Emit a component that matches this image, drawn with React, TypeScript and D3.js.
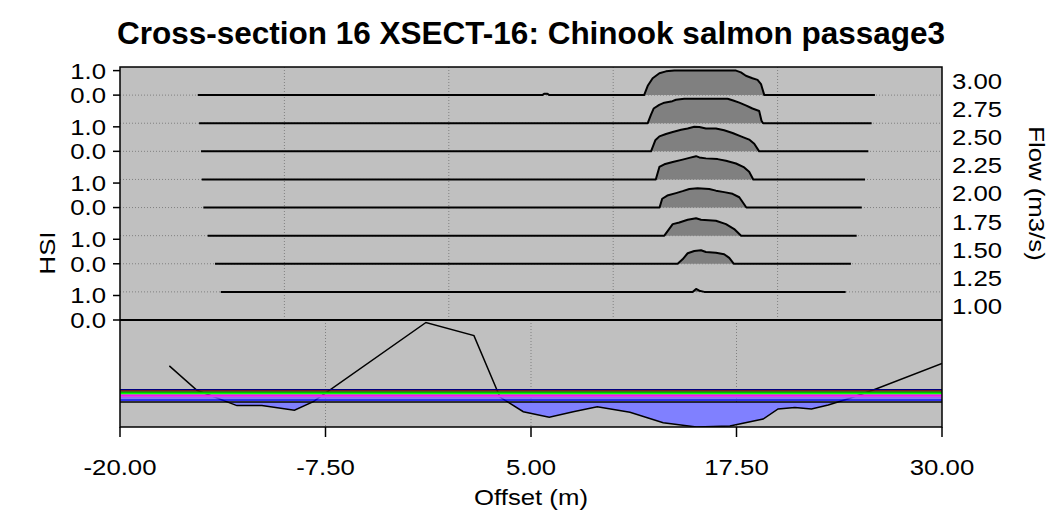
import React from 'react';
import * as d3 from 'd3';

// ---- Data ----
const flowLabels = ['3.00', '2.75', '2.50', '2.25', '2.00', '1.75', '1.50', '1.25', '1.00'];
const wetLeft = [-15.27, -15.19, -15.07, -15.03, -14.93, -14.67, -14.22, -13.87, -13.5];
const wetRight = [25.92, 25.72, 25.52, 25.32, 25.12, 24.81, 24.46, 24.14, 23.8];

const hsi300: [number, number][] = [[5.70, 0], [5.80, 0.06], [6.00, 0.06], [6.10, 0], [11.88, 0], [12.10, 0.38], [12.40, 0.69], [12.81, 0.89], [13.21, 0.97], [13.72, 1.0], [17.47, 1.0], [17.77, 0.93], [18.07, 0.79], [18.47, 0.69], [18.78, 0.62], [18.99, 0.45], [19.19, 0]];
const hsi275: [number, number][] = [[12.10, 0], [12.30, 0.35], [12.46, 0.6], [12.80, 0.75], [13.11, 0.84], [13.60, 0.9], [13.82, 0.96], [14.32, 1.0], [16.96, 1.0], [17.30, 0.93], [17.67, 0.84], [18.10, 0.72], [18.47, 0.6], [18.88, 0.5], [19.02, 0.1], [19.12, 0]];
const hsi250: [number, number][] = [[12.30, 0], [12.56, 0.45], [12.81, 0.61], [13.21, 0.71], [13.62, 0.79], [14.13, 0.88], [14.53, 0.93], [14.93, 1.0], [15.24, 0.99], [15.64, 0.93], [16.25, 0.93], [16.75, 0.86], [17.26, 0.75], [17.77, 0.61], [18.27, 0.48], [18.58, 0.31], [18.88, 0]];
const hsi225: [number, number][] = [[12.59, 0], [12.81, 0.51], [13.11, 0.62], [13.62, 0.71], [14.22, 0.81], [14.63, 0.88], [15.04, 0.95], [15.24, 0.9], [15.64, 0.86], [16.35, 0.83], [16.86, 0.76], [17.47, 0.65], [17.97, 0.49], [18.27, 0.31], [18.52, 0]];
const hsi200: [number, number][] = [[12.82, 0], [12.98, 0.36], [13.29, 0.49], [13.82, 0.59], [14.22, 0.67], [14.63, 0.76], [15.13, 0.79], [15.84, 0.76], [16.25, 0.69], [16.75, 0.63], [17.26, 0.56], [17.67, 0.42], [18.10, 0]];
const hsi175: [number, number][] = [[13.11, 0], [13.62, 0.47], [14.02, 0.54], [14.53, 0.65], [15.04, 0.71], [15.34, 0.65], [16.25, 0.61], [16.86, 0.47], [17.36, 0.27], [17.78, 0]];
const hsi150: [number, number][] = [[13.92, 0], [14.22, 0.18], [14.53, 0.43], [14.93, 0.52], [15.34, 0.55], [15.64, 0.48], [16.25, 0.45], [16.75, 0.39], [17.06, 0.24], [17.34, 0]];
const hsi125: [number, number][] = [[14.83, 0], [15.04, 0.12], [15.24, 0.05], [15.54, 0]];
const hsi100: [number, number][] = [];
const hsiRows = [hsi300, hsi275, hsi250, hsi225, hsi200, hsi175, hsi150, hsi125, hsi100];

const bedOffset = [-17.0, -15.32, -12.89, -11.37, -9.39, -8.24, -1.39, 1.53, 3.11, 4.53, 6.11, 7.57, 9.03, 11.02, 13.04, 15.07, 17.10, 19.12, 20.03, 21.05, 22.06, 23.08, 24.40, 25.82, 30.0];
const bedElev = [2.00, 1.20, 0.70, 0.70, 0.55, 0.83, 3.42, 2.99, 0.98, 0.50, 0.32, 0.50, 0.66, 0.48, 0.14, 0.0, 0.03, 0.26, 0.59, 0.64, 0.59, 0.72, 0.94, 1.21, 2.08];

const waterLevels = [1.220, 1.178, 1.135, 1.093, 1.037, 0.994, 0.949, 0.883, 0.818];
const waterColors = ['#000080', '#800000', '#00a000', '#00ff00', '#ff00ff', '#e040e0', '#8060ff', '#0000ff', '#000000'];

const xTicks = [-20, -7.5, 5, 17.5, 30];
const upperGrid = [-10, 0, 10, 20];
const lowerGrid = [-7.5, 5, 17.5];

const title = 'Cross-section 16 XSECT-16: Chinook salmon passage3';

// ---- Layout ----
const W = 1055, H = 523;
const X0 = 120, X1 = 942, YT = 67, YM = 320, YB = 427;
const FONT = '"Liberation Sans", Arial, sans-serif';
const SX = 1.17;
const FS = 22;

function Label({ x, y, rot = 0, anchor = 'start', children }: { x: number; y: number; rot?: number; anchor?: string; children: React.ReactNode }) {
  return (
    <text transform={`translate(${x},${y}) rotate(${rot}) scale(${SX},1)`} textAnchor={anchor} dy="0.36em" fontSize={FS}>{children}</text>
  );
}

export default function App() {
  const x = d3.scaleLinear().domain([-20, 30]).range([X0, X1]);
  const band = d3.scaleBand().domain(flowLabels).range([YT, YM]).padding(0);
  const bw = band.bandwidth();
  const base = (f: string) => (band(f) as number) + bw;
  const hsi = d3.scaleLinear().domain([0, 1]).range([0, 24.5]);
  const yBed = d3.scaleLinear().domain([0, 3.5]).range([YB, YM]);

  const bed = bedOffset.map((o, i) => [o, bedElev[i]] as [number, number]);
  const bedLine = d3.line<[number, number]>().x(d => x(d[0])).y(d => yBed(d[1]))(bed) || '';
  const aboveBed = d3.area<[number, number]>().x(d => x(d[0])).y0(YM - 50).y1(d => yBed(d[1]))(bed) || '';
  const lowest = waterLevels[waterLevels.length - 1];

  const grid = { stroke: '#808080', strokeWidth: 1, strokeDasharray: '1,2' };

  return (
    <svg width={W} height={H} style={{ position: 'absolute', left: 0, top: 0, background: '#fff' }} fontFamily={FONT}>
      <defs>
        <clipPath id="upClip"><rect x={X0} y={YT} width={X1 - X0} height={YM - YT} /></clipPath>
        <clipPath id="loClip"><rect x={X0} y={YM} width={X1 - X0} height={YB - YM} /></clipPath>
        <clipPath id="bedClip"><path d={aboveBed} /></clipPath>
      </defs>
      <text x={(X0 + X1) / 2} y={44} textAnchor="middle" fontWeight="bold" fontSize={31.5}>{title}</text>
      <rect x={X0} y={YT} width={X1 - X0} height={YB - YT} fill="#c0c0c0" />

      {/* upper panel */}
      <g clipPath="url(#upClip)">
        {upperGrid.map(v => <line key={v} x1={x(v)} x2={x(v)} y1={YT} y2={YM} {...grid} />)}
        {flowLabels.map(f => <line key={f} x1={X0} x2={X1} y1={base(f)} y2={base(f)} {...grid} />)}
        {flowLabels.map((f, i) => {
          const b = base(f);
          const pts: [number, number][] = [[wetLeft[i], 0], ...hsiRows[i], [wetRight[i], 0]];
          const area = d3.area<[number, number]>().x(d => x(d[0])).y0(b).y1(d => b - hsi(d[1]))(pts) || '';
          const line = d3.line<[number, number]>().x(d => x(d[0])).y(d => b - hsi(d[1]))(pts) || '';
          return (
            <g key={f}>
              <path d={area} fill="#808080" />
              <path d={line} fill="none" stroke="#000" strokeWidth={2} strokeLinejoin="round" />
            </g>
          );
        })}
      </g>

      {/* lower panel */}
      <g clipPath="url(#loClip)">
        {lowerGrid.map(v => <line key={v} x1={x(v)} x2={x(v)} y1={YM} y2={YB} {...grid} />)}
        <g clipPath="url(#bedClip)">
          <rect x={X0} y={yBed(lowest)} width={X1 - X0} height={YB - yBed(lowest)} fill="#8080ff" />
        </g>
        <path d={bedLine} fill="none" stroke="#000" strokeWidth={1.5} />
        {waterLevels.map((wl, i) => (
          <line key={i} x1={X0} x2={X1} y1={yBed(wl)} y2={yBed(wl)} stroke={waterColors[i]} strokeWidth={1.6} />
        ))}
      </g>

      {/* frame */}
      <rect x={X0} y={YT} width={X1 - X0} height={YB - YT} fill="none" stroke="#000" strokeWidth={1.5} />
      <line x1={X0} x2={X1} y1={YM} y2={YM} stroke="#000" strokeWidth={2} />

      {/* left axis */}
      {flowLabels.map((f, i) => i % 2 === 0 ? (
        <g key={f}>
          <line x1={X0 - 7} x2={X0} y1={base(f) - hsi(1)} y2={base(f) - hsi(1)} stroke="#000" strokeWidth={1.5} />
          <line x1={X0 - 7} x2={X0} y1={base(f)} y2={base(f)} stroke="#000" strokeWidth={1.5} />
          <Label x={106} y={base(f) - hsi(1)} anchor="end">1.0</Label>
          <Label x={106} y={base(f)} anchor="end">0.0</Label>
        </g>
      ) : null)}

      {/* right flow labels */}
      {flowLabels.map(f => (
        <Label key={f} x={952} y={(band(f) as number) + bw / 2}>{f}</Label>
      ))}

      {/* bottom axis */}
      {xTicks.map(t => (
        <g key={t}>
          <line x1={x(t)} x2={x(t)} y1={YB} y2={YB + 10} stroke="#000" strokeWidth={1.5} />
          <Label x={x(t)} y={467} anchor="middle">{t.toFixed(2)}</Label>
        </g>
      ))}
      <Label x={(X0 + X1) / 2} y={497} anchor="middle">Offset (m)</Label>
      <Label x={47} y={253} rot={-90} anchor="middle">HSI</Label>
      <Label x={1037} y={(YT + YM) / 2} rot={90} anchor="middle">Flow (m3/s)</Label>
    </svg>
  );
}
